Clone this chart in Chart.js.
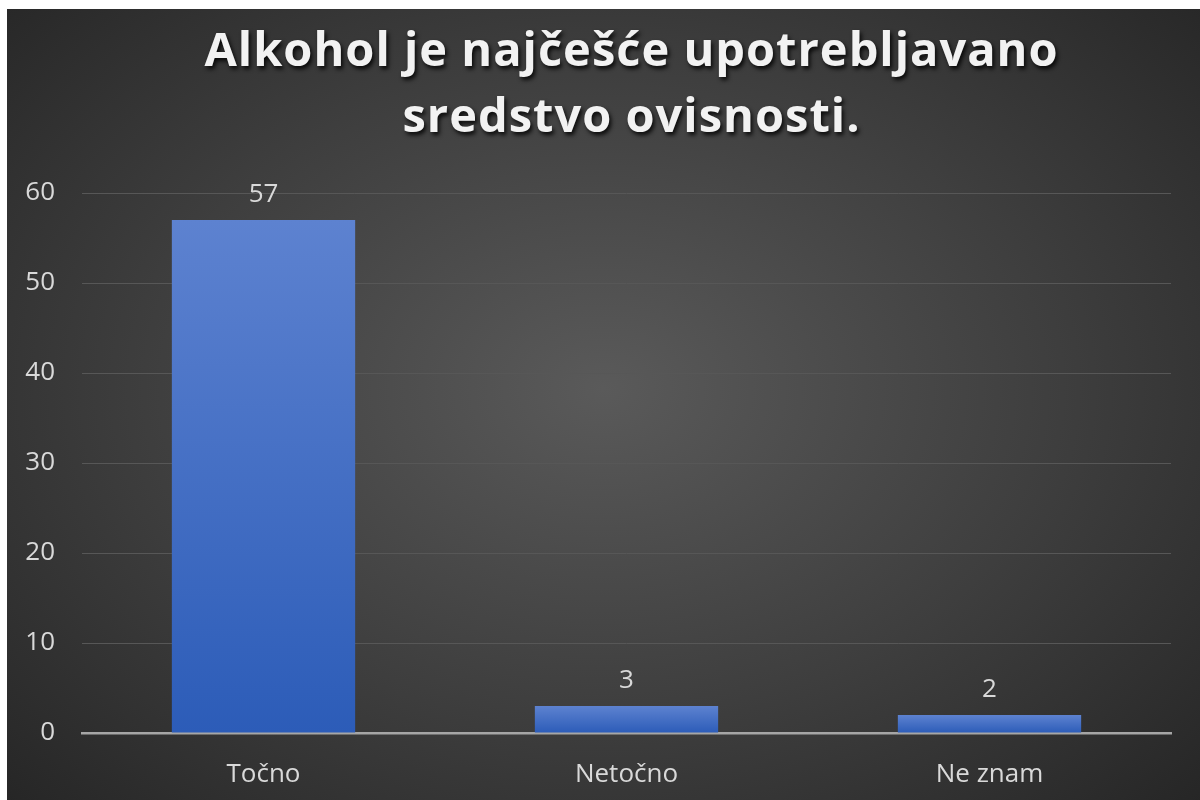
<!DOCTYPE html>
<html>
<head>
<meta charset="utf-8">
<script src="https://cdn.jsdelivr.net/npm/chart.js@4.4.1/dist/chart.umd.min.js"></script>
<style>
  html, body { margin: 0; padding: 0; background: #ffffff; }
  #wrap {
    position: absolute; left: 7px; top: 9px; width: 1193px; height: 791px;
    background: radial-gradient(ellipse 70% 75% at 50% 48%, #5a5a5a 0%, #3e3e3e 55%, #262626 100%);
  }
</style>
</head>
<body>
<div id="wrap"><canvas id="c" width="1193" height="791"></canvas></div>
<script>
const titleLines = ["Alkohol je najčešće upotrebljavano", "sredstvo ovisnosti."];
const categories = ["Točno", "Netočno", "Ne znam"];
const values = [57, 3, 2];
const yTicks = [0, 10, 20, 30, 40, 50, 60];

const titlePlugin = {
  id: 'shadowTitle',
  afterDraw(chart) {
    const ctx = chart.ctx;
    ctx.save();
    ctx.font = 'bold 47px "Open Sans"';
    if ('letterSpacing' in ctx) ctx.letterSpacing = '1px';
    ctx.textAlign = 'center';
    ctx.textBaseline = 'alphabetic';
    ctx.shadowColor = 'rgba(0,0,0,0.85)';
    ctx.shadowBlur = 4;
    ctx.shadowOffsetX = 2;
    ctx.shadowOffsetY = 3;
    ctx.fillStyle = '#f2f2f2';
    const cx = chart.width / 2 + 28;
    ctx.fillText(titleLines[0], cx, 57);
    ctx.fillText(titleLines[1], cx, 123);
    ctx.restore();
  }
};

const valueLabels = {
  id: 'valueLabels',
  afterDatasetsDraw(chart) {
    const ctx = chart.ctx;
    const meta = chart.getDatasetMeta(0);
    ctx.save();
    ctx.font = '26px "Open Sans"';
    ctx.fillStyle = '#d9d9d9';
    ctx.textAlign = 'center';
    ctx.textBaseline = 'middle';
    meta.data.forEach((bar, i) => {
      ctx.fillText(String(values[i]), bar.x, bar.y - 25);
    });
    ctx.restore();
  }
};

function barGradient(context) {
  const chart = context.chart;
  const area = chart.chartArea;
  if (!area || !chart.scales.y) return '#4472c4';
  const v = context.raw;
  const y0 = chart.scales.y.getPixelForValue(0);
  const y1 = chart.scales.y.getPixelForValue(v);
  if (!isFinite(y0) || !isFinite(y1) || y0 === y1) return '#4472c4';
  const g = chart.ctx.createLinearGradient(0, y1, 0, y0);
  g.addColorStop(0, '#5d82d0');
  g.addColorStop(1, '#2c5cb8');
  return g;
}

new Chart(document.getElementById('c'), {
  type: 'bar',
  data: {
    labels: categories,
    datasets: [{
      data: values,
      backgroundColor: barGradient,
      borderWidth: 0,
      barPercentage: 0.505,
      categoryPercentage: 1.0
    }]
  },
  options: {
    responsive: false,
    animation: false,
    layout: { padding: { top: 184, right: 29, bottom: 0, left: 0 } },
    plugins: {
      legend: { display: false },
      title: { display: false },
      tooltip: { enabled: false }
    },
    scales: {
      x: {
        afterFit(scale) { scale.height = 67; },
        grid: { display: false, drawTicks: false },
        border: { display: true, color: '#a6a6a6', width: 2.5 },
        ticks: { color: '#d9d9d9', font: { family: '"Open Sans"', size: 26 }, padding: 26 }
      },
      y: {
        min: 0, max: 60,
        afterBuildTicks(scale) { scale.ticks = yTicks.map(v => ({ value: v })); },
        afterFit(scale) { scale.width = 75; },
        grid: { color: '#575757', lineWidth: 1, drawTicks: false },
        border: { display: false },
        ticks: { color: '#d9d9d9', font: { family: '"Open Sans"', size: 26 }, padding: 27 }
      }
    }
  },
  plugins: [titlePlugin, valueLabels]
});
</script>
</body>
</html>
